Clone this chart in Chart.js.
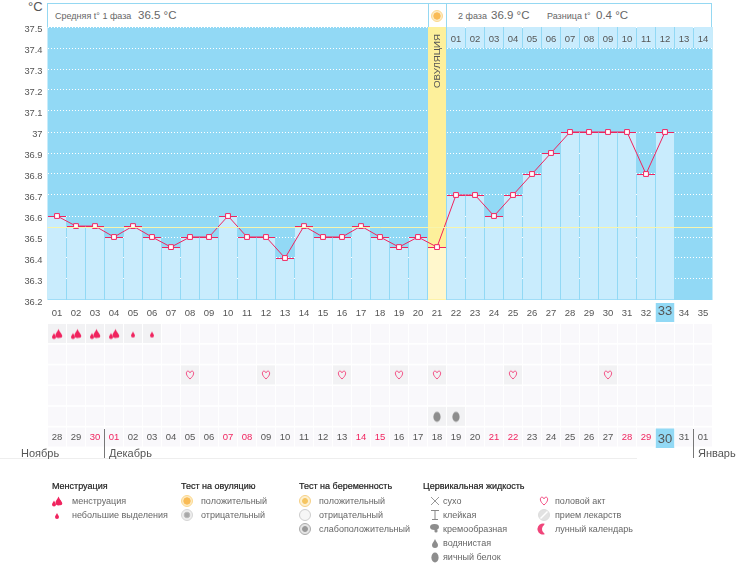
<!DOCTYPE html>
<html lang="ru">
<head>
<meta charset="utf-8">
<title>График базальной температуры</title>
<script src="https://cdn.jsdelivr.net/npm/chart.js@4/dist/chart.umd.min.js"></script>
<style>
    html, body { margin: 0; background: #fff; }
    body { position: relative; width: 750px; height: 587px; overflow: hidden; font: 9px "Liberation Sans", sans-serif; color: #666; }
    canvas, .abs { position: absolute; }
    .abs { white-space: nowrap; line-height: 14px; }
    .box { background: #fff; border: 1px solid #95d8f2; border-bottom: 0; box-sizing: border-box; }
    .big { font-size: 11.5px; }
    .month { font-size: 11px; color: #555; }
    .head { color: #222; -webkit-text-stroke: 0.2px #222; }
    .rule { background: #777; }
</style>
</head>
<body>
<div class="abs" style="left:28px;top:0;color:#555;font-size:13px">°C</div>
<div class="abs box" style="left:47px;top:3px;width:382px;height:24px"></div>
<div class="abs box" style="left:428px;top:3px;width:19px;height:24px"></div>
<div class="abs box" style="left:446px;top:3px;width:266px;height:24px"></div>
<div class="abs" style="left:55px;top:9px">Средняя t° 1 фаза</div>
<div class="abs big" style="left:138px;top:8px">36.5 °C</div>
<div class="abs" style="left:458px;top:9px">2 фаза</div>
<div class="abs big" style="left:491px;top:8px">36.9 °C</div>
<div class="abs" style="left:547px;top:9px">Разница t°</div>
<div class="abs big" style="left:596px;top:8px">0.4 °C</div>

<canvas id="tempChart" width="750" height="312" style="left:0;top:0"></canvas>
<canvas id="rowsChart" width="750" height="145" style="left:0;top:303px"></canvas>

<div class="abs" style="left:437px;top:61px;color:#555;font-size:9.7px;transform:translate(-50%,-50%) rotate(-90deg)">ОВУЛЯЦИЯ</div>

<div class="abs rule" style="left:104px;top:429px;width:1px;height:29px"></div>
<div class="abs rule" style="left:693px;top:429px;width:1px;height:29px"></div>
<div class="abs" style="left:0;top:458px;width:637px;height:1px;background:#eee"></div>
<div class="abs month" style="left:21px;top:446px">Ноябрь</div>
<div class="abs month" style="left:109px;top:446px">Декабрь</div>
<div class="abs month" style="left:698px;top:446px">Январь</div>

<script>
const temps = [36.6, 36.552, 36.552, 36.5, 36.552, 36.5, 36.452, 36.5, 36.5, 36.6, 36.5, 36.5, 36.4, 36.552, 36.5, 36.5, 36.552,
    36.5, 36.452, 36.5, 36.452, 36.7, 36.7, 36.6, 36.7, 36.8, 36.9, 37, 37, 37, 37, 36.8, 37, null, null];
const coverLine = 36.545;
const ovulationIndex = 20;
const todayIndex = 32;
const yMin = 36.2;
const yMax = 37.5;

const cycleDays = ["01", "02", "03", "04", "05", "06", "07", "08", "09", "10", "11", "12", "13", "14", "15", "16", "17", "18",
    "19", "20", "21", "22", "23", "24", "25", "26", "27", "28", "29", "30", "31", "32", "33", "34", "35"];
const nextCycleDays = ["", "", "", "", "", "", "", "", "", "", "", "", "", "", "", "", "", "", "", "", "",
    "01", "02", "03", "04", "05", "06", "07", "08", "09", "10", "11", "12", "13", "14"];
const dates = ["28", "29", "30", "01", "02", "03", "04", "05", "06", "07", "08", "09", "10", "11", "12", "13", "14", "15",
    "16", "17", "18", "19", "20", "21", "22", "23", "24", "25", "26", "27", "28", "29", "30", "31", "01"];
const weekendIndexes = [2, 3, 9, 10, 16, 17, 23, 24, 30, 31];

// 2 = menstruation, 1 = light spotting
const bleeding = [2, 2, 2, 2, 1, 1];
const sexDays = [7, 11, 15, 18, 20, 24, 29];
const eggWhiteDays = [20, 21];

const DEEP_BLUE = "#92d9f5";
const PALE_BLUE = "#c9ecfd";
const PINK = "#f0245f";
const CELL = "#f9f8fb";
const CELL_ON = "#f2f2f4";
const TEXT = "#555";
const FONT = "Liberation Sans";

// small icons, used for points in the chart and in the legend
function icon(draw) {
    const c = document.createElement("canvas");
    c.width = 16;
    c.height = 16;
    draw(c.getContext("2d"));
    return c;
}

function drop(g, x, y, r, color) {
    g.fillStyle = color;
    g.beginPath();
    g.moveTo(x, y - r * 2);
    g.bezierCurveTo(x + r * 0.4, y - r, x + r, y - r * 0.6, x + r, y);
    g.arc(x, y, r, 0, Math.PI);
    g.bezierCurveTo(x - r, y - r * 0.6, x - r * 0.4, y - r, x, y - r * 2);
    g.fill();
}

function ring(g, r, fill, stroke) {
    g.fillStyle = fill;
    g.strokeStyle = stroke;
    g.beginPath();
    g.arc(8, 8, r, 0, Math.PI * 2);
    g.fill();
    g.stroke();
}

const icons = {
    menses: icon(g => { drop(g, 9.5, 9.5, 3, PINK); drop(g, 5, 11.5, 2, PINK); drop(g, 11.5, 10.5, 1.8, PINK); }),
    spotting: icon(g => drop(g, 8, 10, 2, PINK)),
    heart: icon(g => {
        g.strokeStyle = "#f2487f";
        g.lineWidth = 1;
        g.beginPath();
        g.moveTo(8, 12);
        g.bezierCurveTo(3, 8, 4, 4, 6, 4.2);
        g.bezierCurveTo(7, 4.3, 8, 5, 8, 6);
        g.bezierCurveTo(8, 5, 9, 4.3, 10, 4.2);
        g.bezierCurveTo(12, 4, 13, 8, 8, 12);
        g.stroke();
    }),
    egg: icon(g => { g.fillStyle = "#8d8d8d"; g.beginPath(); g.ellipse(8, 8.5, 3.6, 5, 0, 0, Math.PI * 2); g.fill(); }),
    ovPos: icon(g => { ring(g, 5.5, "#fdebc4", "#fbd88e"); ring(g, 3.2, "#f9bb55", "#f9bb55"); }),
    ovNeg: icon(g => { ring(g, 5.5, "#eee", "#d5d5d5"); ring(g, 2.8, "#a8a8a8", "#bbb"); }),
    pregPos: icon(g => { ring(g, 5.5, "#fdf0d0", "#f5cf85"); ring(g, 2.5, "#f6c560", "#f6c560"); }),
    pregNeg: icon(g => ring(g, 5.5, "#f6f6f6", "#ccc")),
    pregWeak: icon(g => { ring(g, 5.5, "#e4e4e4", "#aaa"); ring(g, 2.5, "#999", "#999"); }),
    dry: icon(g => {
        g.strokeStyle = "#999";
        g.beginPath();
        g.moveTo(4, 4); g.lineTo(12, 12);
        g.moveTo(12, 4); g.lineTo(4, 12);
        g.stroke();
    }),
    sticky: icon(g => {
        g.strokeStyle = "#888";
        g.beginPath();
        g.moveTo(4, 3.5); g.lineTo(12, 3.5);
        g.moveTo(8, 3.5); g.lineTo(8, 12.5);
        g.moveTo(5, 12.5); g.lineTo(11, 12.5);
        g.stroke();
    }),
    creamy: icon(g => {
        g.fillStyle = "#8d8d8d";
        g.beginPath();
        g.ellipse(7.5, 6, 4.5, 3, 0, 0, Math.PI * 2);
        g.fill();
        drop(g, 9, 10, 1.6, "#8d8d8d");
    }),
    watery: icon(g => drop(g, 8, 10, 3, "#8d8d8d")),
    pill: icon(g => {
        ring(g, 5.5, "#e2e2e2", "#ddd");
        g.strokeStyle = "#fff";
        g.lineWidth = 1.5;
        g.beginPath();
        g.moveTo(4.5, 11.5); g.lineTo(11.5, 4.5);
        g.stroke();
    }),
    moon: icon(g => {
        g.fillStyle = "#f0457a";
        g.beginPath();
        g.arc(7, 8, 5.5, Math.PI * 0.4, Math.PI * 1.6);
        g.arc(11, 8, 5, Math.PI * 1.3, Math.PI * 0.7, true);
        g.fill();
    })
};

// blue plot background under the grid
const plotBackground = {
    id: "plotBackground",
    beforeDraw(chart) {
        const a = chart.chartArea;
        chart.ctx.fillStyle = DEEP_BLUE;
        chart.ctx.fillRect(a.left, a.top, a.right - a.left, a.bottom - a.top);
    }
};

new Chart(document.getElementById("tempChart"), {
    type: "bar",
    plugins: [plotBackground],
    data: {
        labels: cycleDays,
        datasets: [
            {
                label: "Температура",
                type: "line",
                data: temps,
                borderColor: PINK,
                borderWidth: 1,
                tension: 0,
                pointStyle: "rect",
                pointRadius: 3.4,
                pointBorderWidth: 1,
                pointBorderColor: PINK,
                pointBackgroundColor: "#fff",
                order: 1
            },
            {
                label: "Столбцы",
                data: temps,
                base: yMin,
                grouped: false,
                backgroundColor: ctx => ctx.dataIndex === ovulationIndex ? "#fff7cc" : PALE_BLUE,
                borderColor: PINK,
                borderWidth: { top: 1, left: 0, right: 0, bottom: 0 },
                borderSkipped: false,
                order: 3
            },
            {
                label: "Овуляция",
                data: cycleDays.map((d, i) => i === ovulationIndex ? [yMin, yMax] : null),
                grouped: false,
                backgroundColor: "#fdf09b",
                order: 4
            },
            {
                label: "Следующий цикл",
                data: nextCycleDays.map(d => d ? [37.4, yMax] : null),
                grouped: false,
                backgroundColor: PALE_BLUE,
                order: 5
            }
        ]
    },
    options: {
        responsive: false,
        animation: false,
        events: [],
        categoryPercentage: 1,
        barPercentage: 18 / 19,
        layout: { padding: { top: 27, right: 37.5, bottom: 12 } },
        plugins: { legend: { display: false }, tooltip: { enabled: false } },
        scales: {
            x: { display: false, offset: true },
            xTop: {
                type: "category",
                labels: nextCycleDays,
                position: { y: yMax },
                offset: true,
                grid: { display: false, drawTicks: false },
                border: { display: false },
                ticks: { z: 1, padding: 7, autoSkip: false, maxRotation: 0, color: TEXT, font: { family: FONT, size: 9.5 } }
            },
            y: {
                min: yMin,
                max: yMax,
                grid: { color: "#fff", drawTicks: false },
                border: { display: false, dash: [1, 2] },
                ticks: {
                    stepSize: 0.1,
                    padding: 5,
                    labelOffset: 2.5,
                    color: TEXT,
                    font: { family: FONT, size: 9.3 },
                    callback: v => String(Number(v.toFixed(1)))
                },
                afterFit: s => { s.width = 47.5; s.paddingTop = 0; s.paddingBottom = 0; }
            },
            // one grid line drawn on top of the bars: the cover line
            yCover: {
                position: "right",
                min: yMin,
                max: yMax,
                afterBuildTicks: s => { s.ticks = [{ value: coverLine }]; },
                grid: { color: "#f7f5ae", drawTicks: false, z: 1 },
                border: { display: false },
                ticks: { display: false },
                afterFit: s => { s.width = 0; s.paddingTop = 0; s.paddingBottom = 0; }
            }
        }
    }
});

// lower rows: one bar per cell, the last row sits behind the date labels
function cellRow(row) {
    return {
        data: cycleDays.map(() => [row, row + 0.92]),
        grouped: false,
        clip: false,
        order: 5,
        backgroundColor: ctx => {
            const i = ctx.dataIndex;
            if (row === 0 && bleeding[i]) return CELL_ON;
            if (row === 2 && sexDays.includes(i)) return CELL_ON;
            if (row === 4 && eggWhiteDays.includes(i)) return CELL_ON;
            return CELL;
        }
    };
}

function symbolRow(row, has, style) {
    return {
        type: "line",
        showLine: false,
        data: cycleDays.map((d, i) => has(i) ? row + 0.46 : null),
        pointRadius: 6,
        pointStyle: style,
        order: 1
    };
}

new Chart(document.getElementById("rowsChart"), {
    type: "bar",
    data: {
        labels: dates,
        datasets: [
            cellRow(0), cellRow(1), cellRow(2), cellRow(3), cellRow(4), cellRow(5),
            symbolRow(0, i => bleeding[i], ctx => bleeding[ctx.dataIndex] === 2 ? icons.menses : icons.spotting),
            symbolRow(2, i => sexDays.includes(i), icons.heart),
            symbolRow(4, i => eggWhiteDays.includes(i), icons.egg)
        ]
    },
    options: {
        responsive: false,
        animation: false,
        events: [],
        categoryPercentage: 1,
        barPercentage: 18 / 19,
        layout: { padding: { left: 47.5, right: 37.5 } },
        plugins: { legend: { display: false }, tooltip: { enabled: false } },
        scales: {
            y: { display: false, reverse: true, min: 0, max: 5 },
            x: {
                position: "bottom",
                offset: true,
                grid: { display: false, drawTicks: false },
                border: { display: false },
                ticks: {
                    z: 1,
                    padding: 4,
                    autoSkip: false,
                    maxRotation: 0,
                    color: ctx => ctx.index === todayIndex ? TEXT : weekendIndexes.includes(ctx.index) ? PINK : TEXT,
                    font: ctx => ({ family: FONT, size: ctx.index === todayIndex ? 13 : 9.5 }),
                    showLabelBackdrop: ctx => ctx.index === todayIndex,
                    backdropColor: DEEP_BLUE,
                    backdropPadding: { x: 2, y: 3 }
                },
                afterFit: s => { s.height = 20.5; }
            },
            xTop: {
                type: "category",
                labels: cycleDays,
                position: "top",
                offset: true,
                grid: { display: false, drawTicks: false },
                border: { display: false },
                ticks: {
                    padding: 5,
                    autoSkip: false,
                    maxRotation: 0,
                    color: TEXT,
                    font: ctx => ({ family: FONT, size: ctx.index === todayIndex ? 13 : 9.5 }),
                    showLabelBackdrop: ctx => ctx.index === todayIndex,
                    backdropColor: DEEP_BLUE,
                    backdropPadding: { x: 2, y: 3 }
                },
                afterFit: s => { s.height = 21; }
            }
        }
    }
});

// legend
const legendGroups = [
    { title: "Менструация", x: 52, iconX: 57, textX: 72, items: [["menses", "менструация"], ["spotting", "небольшие выделения"]] },
    { title: "Тест на овуляцию", x: 181, iconX: 187, textX: 201, items: [["ovPos", "положительный"], ["ovNeg", "отрицательный"]] },
    { title: "Тест на беременность", x: 299, iconX: 305, textX: 319, items: [["pregPos", "положительный"], ["pregNeg", "отрицательный"], ["pregWeak", "слабоположительный"]] },
    { title: "Цервикальная жидкость", x: 423, iconX: 435, textX: 443, items: [["dry", "сухо"], ["sticky", "клейкая"], ["creamy", "кремообразная"], ["watery", "водянистая"], ["egg", "яичный белок"]] },
    { title: "", x: 544, iconX: 544, textX: 555, items: [["heart", "половой акт"], ["pill", "прием лекарств"], ["moon", "лунный календарь"]] }
];

function addText(text, x, y, cls) {
    const el = document.createElement("div");
    el.className = "abs " + (cls || "");
    el.textContent = text;
    el.style.left = x + "px";
    el.style.top = (y - 7) + "px";
    document.body.appendChild(el);
}

function addIcon(name, x, y) {
    const c = icons[name];
    const copy = icon(g => g.drawImage(c, 0, 0));
    copy.style.left = (x - 8) + "px";
    copy.style.top = (y - 8) + "px";
    document.body.appendChild(copy);
}

legendGroups.forEach(group => {
    if (group.title) addText(group.title, group.x, 486, "head");
    group.items.forEach((item, i) => {
        const y = 501 + i * 14;
        addIcon(item[0], group.iconX, y);
        addText(item[1], group.textX, y);
    });
});

addIcon("ovPos", 437, 16);
</script>
</body>
</html>
